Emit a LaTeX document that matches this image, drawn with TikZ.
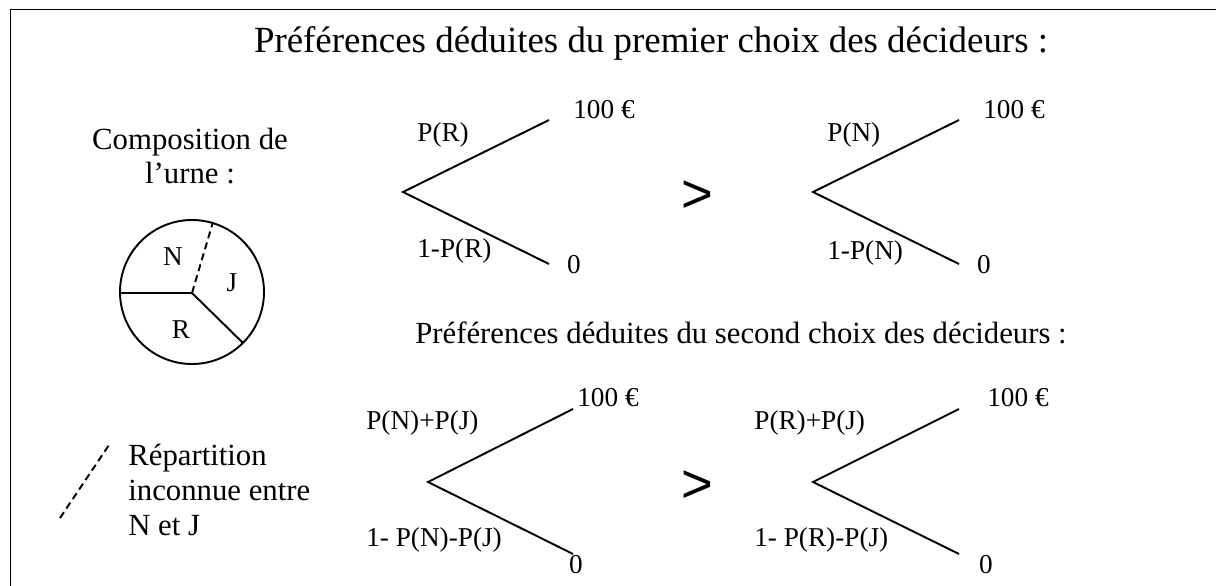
\documentclass[tikz,border=0pt]{standalone}
\usepackage{fontspec}
\setmainfont{Liberation Serif}
\newfontfamily\arialfont{Liberation Sans}

\begin{document}
\begin{tikzpicture}[x=0.02cm, y=-0.02cm, lbl/.style={font=\fontsize{15.5}{18}\selectfont, inner sep=0pt}, ttl/.style={font=\fontsize{17.5}{19.8}\selectfont, inner sep=0pt}, gt/.style={font=\fontsize{31}{31}\arialfont, inner sep=0pt}, n/.style={line width=1.1pt}, d/.style={line width=1.1pt, dash pattern=on 4pt off 2.5pt}]
                \useasboundingbox (0,0) rectangle (1216,585);
                % frame
                \draw [n] (1230,9.5) -- (10.5,9.5) -- (10.5,600);
                % titles
                \node[ttl, font=\fontsize{21}{24}\selectfont] (t1) at (651,43) {Préférences déduites du premier choix des décideurs :};
                \node[ttl] (t2) at (741,333) {Préférences déduites du second choix des décideurs :};
                % urne
                \node[ttl, align=center] (comp) at (190,156) {Composition de\\l’urne :};
                \coordinate (c) at (192,293);
                \coordinate (cl) at (120,293);
                \coordinate (cr) at (243,343);
                \coordinate (cj) at (213,222);
                \draw [n] (192,292) circle (72);
                \draw [n] (cl) -- (c) -- (cr);
                \draw [d] (c) -- (cj);
                \node[lbl] (un) at (173,257) {N};
                \node[lbl] (uj) at (232,283) {J};
                \node[lbl] (ur) at (181,330) {R};
                % legende
                \coordinate (l1) at (60,518);
                \coordinate (l2) at (109,445);
                \draw [d] (l1) -- (l2);
                \node[ttl, align=left, anchor=west] (leg) at (128,490) {Répartition\\inconnue entre\\N et J};
                % premier choix
                \coordinate (a0) at (403,192);
                \coordinate (a1) at (549,120);
                \coordinate (a2) at (549,264);
                \draw [n] (a1) -- (a0) -- (a2);
                \node[lbl, anchor=west] (pa1) at (417,135) {P(R)};
                \node[lbl, anchor=west] (pa2) at (417,251) {1-P(R)};
                \node[lbl, anchor=west] (ga1) at (573,110) {100 €};
                \node[lbl] (ga2) at (574,265) {0};
                \node[gt] (gt1) at (697,197) {>};
                \coordinate (b0) at (813,192);
                \coordinate (b1) at (959,120);
                \coordinate (b2) at (959,264);
                \draw [n] (b1) -- (b0) -- (b2);
                \node[lbl, anchor=west] (pb1) at (827,135) {P(N)};
                \node[lbl, anchor=west] (pb2) at (827,253) {1-P(N)};
                \node[lbl, anchor=west] (gb1) at (983,110) {100 €};
                \node[lbl] (gb2) at (984,265) {0};
                % second choix
                \coordinate (e0) at (428,482);
                \coordinate (e1) at (573,409);
                \coordinate (e2) at (573,554);
                \draw [n] (e1) -- (e0) -- (e2);
                \node[lbl, anchor=west] (pe1) at (366,423) {P(N)+P(J)};
                \node[lbl, anchor=west] (pe2) at (366,540) {1- P(N)-P(J)};
                \node[lbl, anchor=west] (ge1) at (577,398) {100 €};
                \node[lbl] (ge2) at (576,565) {0};
                \node[gt] (gt2) at (697,487) {>};
                \coordinate (f0) at (813,482);
                \coordinate (f1) at (959,409);
                \coordinate (f2) at (959,554);
                \draw [n] (f1) -- (f0) -- (f2);
                \node[lbl, anchor=west] (pf1) at (754,423) {P(R)+P(J)};
                \node[lbl, anchor=west] (pf2) at (754,540) {1- P(R)-P(J)};
                \node[lbl, anchor=west] (gf1) at (987,398) {100 €};
                \node[lbl] (gf2) at (986,565) {0};
            \end{tikzpicture}
\end{document}
